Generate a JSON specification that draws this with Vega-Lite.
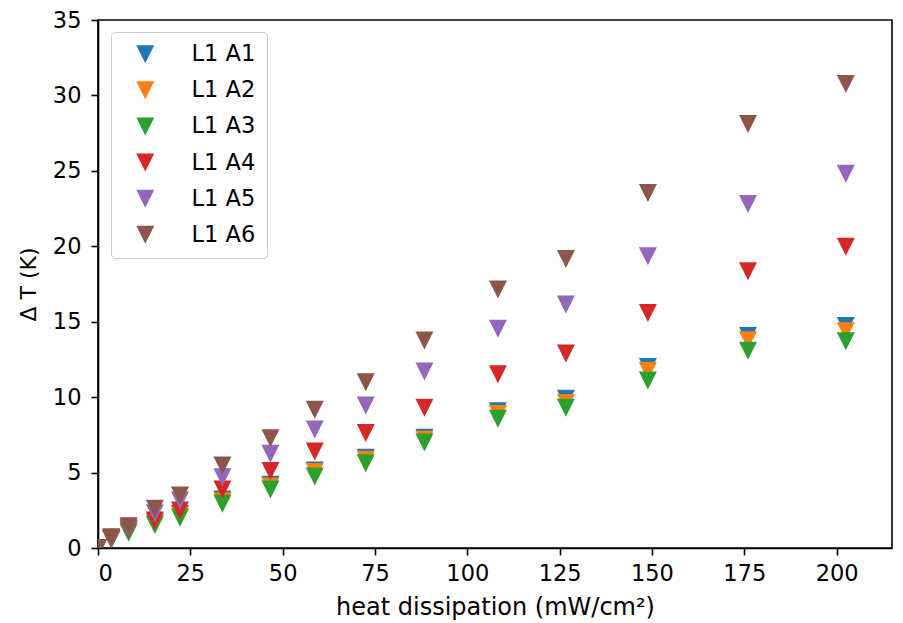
{
  "$schema": "https://vega.github.io/schema/vega-lite/v6.json",
  "autosize": "none",
  "width": 794,
  "height": 528,
  "padding": {"left": 98, "top": 20, "right": 11, "bottom": 75},
  "background": "white",
  "config": {
    "font": "DejaVu Sans",
    "view": {"stroke": "black", "strokeWidth": 1.6},
    "axis": {
      "grid": false,
      "domainColor": "black",
      "domainWidth": 1.6,
      "tickColor": "black",
      "tickWidth": 1.6,
      "tickSize": 7,
      "labelFont": "DejaVu Sans",
      "labelFontSize": 22.5,
      "labelColor": "black",
      "labelPadding": 7,
      "titleFont": "DejaVu Sans",
      "titleFontSize": 22,
      "titleFontWeight": "normal",
      "titleColor": "black"
    }
  },
  "data": {
    "values": [
      {"x": 0, "y": 0, "series": "L1 A1"},
      {"x": 3.6, "y": 0.6, "series": "L1 A1"},
      {"x": 8.3, "y": 1.15, "series": "L1 A1"},
      {"x": 15.4, "y": 1.7, "series": "L1 A1"},
      {"x": 22.2, "y": 2.25, "series": "L1 A1"},
      {"x": 33.7, "y": 3.21, "series": "L1 A1"},
      {"x": 46.7, "y": 4.19, "series": "L1 A1"},
      {"x": 58.7, "y": 5.14, "series": "L1 A1"},
      {"x": 72.5, "y": 5.98, "series": "L1 A1"},
      {"x": 88.4, "y": 7.3, "series": "L1 A1"},
      {"x": 108.3, "y": 9.07, "series": "L1 A1"},
      {"x": 126.7, "y": 9.89, "series": "L1 A1"},
      {"x": 148.9, "y": 11.99, "series": "L1 A1"},
      {"x": 176.0, "y": 14.05, "series": "L1 A1"},
      {"x": 202.5, "y": 14.72, "series": "L1 A1"},

      {"x": 0, "y": 0, "series": "L1 A2"},
      {"x": 3.6, "y": 0.58, "series": "L1 A2"},
      {"x": 8.3, "y": 1.1, "series": "L1 A2"},
      {"x": 15.4, "y": 1.65, "series": "L1 A2"},
      {"x": 22.2, "y": 2.15, "series": "L1 A2"},
      {"x": 33.7, "y": 3.1, "series": "L1 A2"},
      {"x": 46.7, "y": 4.08, "series": "L1 A2"},
      {"x": 58.7, "y": 5.03, "series": "L1 A2"},
      {"x": 72.5, "y": 5.85, "series": "L1 A2"},
      {"x": 88.4, "y": 7.17, "series": "L1 A2"},
      {"x": 108.3, "y": 8.89, "series": "L1 A2"},
      {"x": 126.7, "y": 9.62, "series": "L1 A2"},
      {"x": 148.9, "y": 11.73, "series": "L1 A2"},
      {"x": 176.0, "y": 13.77, "series": "L1 A2"},
      {"x": 202.5, "y": 14.36, "series": "L1 A2"},

      {"x": 0, "y": 0, "series": "L1 A3"},
      {"x": 3.6, "y": 0.55, "series": "L1 A3"},
      {"x": 8.3, "y": 1.01, "series": "L1 A3"},
      {"x": 15.4, "y": 1.52, "series": "L1 A3"},
      {"x": 22.2, "y": 2.0, "series": "L1 A3"},
      {"x": 33.7, "y": 2.93, "series": "L1 A3"},
      {"x": 46.7, "y": 3.88, "series": "L1 A3"},
      {"x": 58.7, "y": 4.74, "series": "L1 A3"},
      {"x": 72.5, "y": 5.62, "series": "L1 A3"},
      {"x": 88.4, "y": 6.99, "series": "L1 A3"},
      {"x": 108.3, "y": 8.56, "series": "L1 A3"},
      {"x": 126.7, "y": 9.29, "series": "L1 A3"},
      {"x": 148.9, "y": 11.1, "series": "L1 A3"},
      {"x": 176.0, "y": 13.08, "series": "L1 A3"},
      {"x": 202.5, "y": 13.7, "series": "L1 A3"},

      {"x": 0, "y": 0, "series": "L1 A4"},
      {"x": 3.6, "y": 0.62, "series": "L1 A4"},
      {"x": 8.3, "y": 1.24, "series": "L1 A4"},
      {"x": 15.4, "y": 1.83, "series": "L1 A4"},
      {"x": 22.2, "y": 2.49, "series": "L1 A4"},
      {"x": 33.7, "y": 3.88, "series": "L1 A4"},
      {"x": 46.7, "y": 5.11, "series": "L1 A4"},
      {"x": 58.7, "y": 6.4, "series": "L1 A4"},
      {"x": 72.5, "y": 7.63, "series": "L1 A4"},
      {"x": 88.4, "y": 9.29, "series": "L1 A4"},
      {"x": 108.3, "y": 11.52, "series": "L1 A4"},
      {"x": 126.7, "y": 12.89, "series": "L1 A4"},
      {"x": 148.9, "y": 15.57, "series": "L1 A4"},
      {"x": 176.0, "y": 18.35, "series": "L1 A4"},
      {"x": 202.5, "y": 19.97, "series": "L1 A4"},

      {"x": 0, "y": 0, "series": "L1 A5"},
      {"x": 3.6, "y": 0.68, "series": "L1 A5"},
      {"x": 8.3, "y": 1.35, "series": "L1 A5"},
      {"x": 15.4, "y": 2.3, "series": "L1 A5"},
      {"x": 22.2, "y": 3.15, "series": "L1 A5"},
      {"x": 33.7, "y": 4.69, "series": "L1 A5"},
      {"x": 46.7, "y": 6.24, "series": "L1 A5"},
      {"x": 58.7, "y": 7.86, "series": "L1 A5"},
      {"x": 72.5, "y": 9.45, "series": "L1 A5"},
      {"x": 88.4, "y": 11.7, "series": "L1 A5"},
      {"x": 108.3, "y": 14.53, "series": "L1 A5"},
      {"x": 126.7, "y": 16.14, "series": "L1 A5"},
      {"x": 148.9, "y": 19.34, "series": "L1 A5"},
      {"x": 176.0, "y": 22.8, "series": "L1 A5"},
      {"x": 202.5, "y": 24.81, "series": "L1 A5"},

      {"x": 0, "y": 0, "series": "L1 A6"},
      {"x": 3.6, "y": 0.72, "series": "L1 A6"},
      {"x": 8.3, "y": 1.45, "series": "L1 A6"},
      {"x": 15.4, "y": 2.6, "series": "L1 A6"},
      {"x": 22.2, "y": 3.48, "series": "L1 A6"},
      {"x": 33.7, "y": 5.47, "series": "L1 A6"},
      {"x": 46.7, "y": 7.28, "series": "L1 A6"},
      {"x": 58.7, "y": 9.16, "series": "L1 A6"},
      {"x": 72.5, "y": 10.99, "series": "L1 A6"},
      {"x": 88.4, "y": 13.75, "series": "L1 A6"},
      {"x": 108.3, "y": 17.14, "series": "L1 A6"},
      {"x": 126.7, "y": 19.15, "series": "L1 A6"},
      {"x": 148.9, "y": 23.53, "series": "L1 A6"},
      {"x": 176.0, "y": 28.1, "series": "L1 A6"},
      {"x": 202.5, "y": 30.75, "series": "L1 A6"}
    ]
  },
  "mark": {
    "type": "point",
    "shape": "M-1,-1L1,-1L0,1Z",
    "filled": true,
    "opacity": 1,
    "size": 324,
    "strokeWidth": 0,
    "clip": true
  },
  "encoding": {
    "x": {
      "field": "x",
      "type": "quantitative",
      "scale": {"domain": [0, 215], "nice": false, "zero": false},
      "axis": {"values": [0, 25, 50, 75, 100, 125, 150, 175, 200], "title": "heat dissipation (mW/cm²)", "titleFontSize": 24, "titlePadding": 11}
    },
    "y": {
      "field": "y",
      "type": "quantitative",
      "scale": {"domain": [0, 35], "nice": false, "zero": false},
      "axis": {"values": [0, 5, 10, 15, 20, 25, 30, 35], "title": "Δ T (K)", "titlePadding": 12, "labelPadding": 10}
    },
    "color": {
      "field": "series",
      "type": "nominal",
      "scale": {
        "domain": ["L1 A1", "L1 A2", "L1 A3", "L1 A4", "L1 A5", "L1 A6"],
        "range": ["#1f77b4", "#ff7f0e", "#2ca02c", "#d62728", "#9467bd", "#8c564b"]
      },
      "legend": {
        "title": null,
        "orient": "none",
        "legendX": 13,
        "legendY": 12,
        "padding": 11,
        "symbolType": "M-1,-1L1,-1L0,1Z",
        "symbolSize": 324,
        "symbolStrokeWidth": 0,
        "symbolOffset": 12,
        "labelOffset": 35,
        "labelFont": "DejaVu Sans",
        "labelFontSize": 22.5,
        "labelColor": "black",
        "rowPadding": 13.1,
        "strokeColor": "#cccccc",
        "fillColor": "rgba(255,255,255,0.8)",
        "cornerRadius": 4
      }
    }
  }
}
